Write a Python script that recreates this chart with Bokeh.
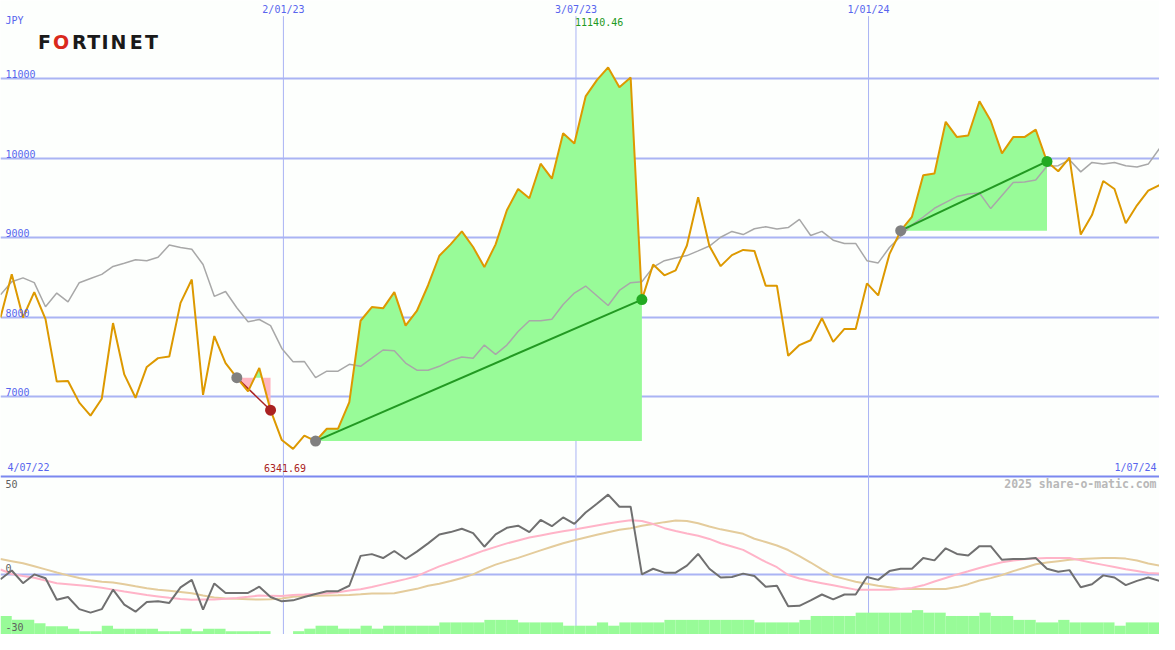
import numpy as np
import pandas as pd
from bokeh.plotting import figure
from bokeh.models import Range1d, Label
from bokeh.embed import file_html
from bokeh.resources import INLINE

# ---------------- data ----------------
dates = pd.date_range("2022-07-10", periods=104, freq="7D")

price = [7994, 8537, 7994, 8313, 7973, 7188, 7196, 6923, 6759, 6972,
         7924, 7278, 6984, 7372, 7483, 7503, 8178, 8472, 7021, 7761,
         7421, 7237, 7065, 7360, 6828, 6452, 6341.69, 6509, 6439, 6595,
         6595, 6930, 7953, 8125, 8109, 8313, 7892, 8076, 8400, 8771,
         8914, 9078, 8881, 8628, 8914, 9344, 9610, 9495, 9929, 9740,
         10313, 10182, 10775, 10980, 11140.46, 10890, 11012, 8219, 8660, 8525,
         8587, 8900, 9507, 8894, 8640, 8779, 8844, 8832, 8395, 8395,
         7512, 7647, 7708, 7985, 7687, 7850, 7850, 8423, 8272, 8791,
         9086, 9261, 9785, 9806, 10456, 10264, 10284, 10714, 10469, 10059,
         10264, 10264, 10358, 9957, 9834, 10006, 9037, 9282, 9712, 9610,
         9180, 9405, 9589, 9659]

average = [8280, 8444, 8493, 8432, 8129, 8301, 8190, 8432, 8485, 8537,
           8636, 8677, 8721, 8709, 8751, 8906, 8874, 8853, 8660, 8260,
           8321, 8117, 7941, 7969, 7892, 7605, 7438, 7442, 7237, 7319,
           7319, 7405, 7380, 7482, 7585, 7577, 7421, 7331, 7331, 7380,
           7450, 7497, 7482, 7647, 7531, 7647, 7818, 7953, 7953, 7973,
           8157, 8301, 8390, 8267, 8145, 8334, 8432, 8444, 8628, 8709,
           8742, 8773, 8832, 8893, 9004, 9077, 9037, 9110, 9135, 9107,
           9126, 9229, 9025, 9077, 8967, 8926, 8926, 8709, 8681, 8874,
           9016, 9160, 9258, 9368, 9442, 9515, 9548, 9561, 9364, 9528,
           9691, 9699, 9724, 9896, 9904, 9978, 9826, 9945, 9924, 9945,
           9904, 9887, 9924, 10120]

momentum = [-2.7, 1.8, -4.7, -0.2, -2.2, -13.2, -11.8, -18, -19.8, -18,
            -8, -15.7, -19.3, -14.3, -14, -14.8, -6.8, -3, -18.2, -4.8,
            -9.7, -9.7, -9.7, -6.5, -11.8, -14, -13.5, -11.8, -10.2, -8.8,
            -8.8, -6, 9.3, 10.2, 8.2, 11.8, 7.7, 11.5, 15.7, 20.3,
            21.5, 23.2, 21, 14, 20.3, 23.7, 24.8, 21.5, 27.7, 24.5,
            29, 25.7, 31.5, 36, 40.7, 34.5, 34.5, -0.2, 2.7, 0.7,
            0.7, 4.3, 10.3, 2.7, -1.8, -1.5, 0.2, -1, -6.5, -6,
            -16.5, -16.3, -13.5, -10.5, -13, -10.5, -10.5, -1.5, -3, 1.5,
            2.7, 2.7, 8.2, 7, 13.2, 10.3, 9.5, 14.3, 14.3, 7.3,
            7.7, 7.7, 8.2, 2.7, 1.2, 2, -6.8, -5.2, -0.7, -1.8,
            -5.7, -3.5, -1.8, -3.5]

signal_fast = [2.3, 0.0, -1.0, -1.9, -3.3, -4.7, -5.2, -5.7, -6.3, -7.0,
               -8.0, -9.0, -9.9, -10.8, -11.5, -12.2, -12.8, -13.2, -13.1, -13.0,
               -12.7, -12.3, -11.7, -11.0, -11.2, -11.3, -10.7, -10.5, -10.2, -9.8,
               -9.3, -8.5, -7.8, -6.6, -5.3, -4.0, -2.6, -1.1, 1.5, 3.9,
               5.9, 7.9, 10.0, 12.1, 13.9, 15.7, 17.2, 18.7, 19.8, 20.9,
               21.9, 22.8, 23.9, 24.9, 25.9, 26.8, 27.6, 27.2, 25.6, 23.5,
               22.1, 20.8, 19.6, 18.0, 15.8, 14.1, 12.4, 9.3, 6.2, 3.5,
               -0.5, -2.3, -3.6, -4.7, -5.8, -6.9, -8.0, -8.0, -8.0, -8.0,
               -7.7, -7.1, -5.8, -3.8, -2.0, -0.2, 1.4, 3.1, 4.6, 6.0,
               6.9, 7.6, 7.9, 8.2, 8.2, 8.2, 7.0, 5.8, 4.7, 3.6,
               2.5, 1.5, 0.5, 0.2]

signal_slow = [7.7, 6.6, 5.5, 4.0, 2.4, 0.8, -0.7, -2.0, -3.2, -4.0,
               -4.4, -5.2, -6.3, -7.3, -8.0, -8.6, -9.2, -9.9, -11.0, -12.0,
               -12.5, -12.7, -12.9, -13.1, -12.9, -12.5, -11.6, -11.3, -11.2, -11.0,
               -10.9, -10.7, -10.4, -10.0, -10.0, -9.8, -8.7, -7.6, -6.0, -5.0,
               -3.6, -2.0, -0.2, 2.5, 4.8, 6.6, 8.3, 10.2, 12.1, 14.0,
               15.8, 17.3, 18.7, 20.1, 21.4, 22.7, 23.5, 24.7, 25.7, 26.6,
               27.4, 27.2, 26.0, 24.4, 22.9, 21.8, 20.6, 18.1, 16.4, 14.6,
               12.3, 9.2, 5.9, 2.4, -1.0, -2.5, -4.0, -5.0, -6.0, -6.8,
               -7.7, -7.7, -7.7, -7.7, -7.7, -6.7, -5.2, -3.3, -2.1, -0.5,
               1.5, 3.2, 5.0, 5.9, 6.6, 7.3, 7.7, 8.0, 8.2, 8.2,
               7.9, 6.9, 5.4, 4.3]

volume = [9.5, 7.5, 7.5, 5.8, 4.2, 4.2, 3, 1.7, 1.7, 4.5,
          3, 3, 3, 3, 1.7, 1.7, 3, 1.7, 3, 3,
          1.7, 1.7, 1.7, 1.7, 0, 0, 1.7, 3, 4.5, 4.5,
          3, 3, 4.5, 3, 4.5, 4.5, 4.5, 4.5, 4.5, 6.2,
          6.2, 6.2, 6.2, 7.5, 7.5, 7.5, 6.2, 6.2, 6.2, 6.2,
          4.5, 4.5, 4.5, 6.2, 4.5, 6.2, 6.2, 6.2, 6.2, 7.5,
          7.5, 7.5, 7.5, 7.5, 7.5, 7.5, 7.5, 6.2, 6.2, 6.2,
          6.2, 7.5, 9.5, 9.5, 9.5, 9.5, 11.2, 11.2, 11.2, 11.2,
          11.2, 12.5, 11.2, 11.2, 9.5, 9.5, 9.5, 11.2, 9.5, 9.5,
          7.5, 7.5, 6.2, 6.2, 7.5, 6.2, 6.2, 6.2, 6.2, 4.5,
          6.2, 6.2, 6.2]

price_ticks = [7000, 8000, 9000, 10000, 11000]
osc_ticks = [50, 0, -30]
date_marks = ["2023-01-02", "2023-07-03", "2024-01-01"]
date_mark_labels = ["2/01/23", "3/07/23", "1/01/24"]
edge_labels = ["4/07/22", "1/07/24"]
seg_start = [21, 28, 80]
seg_end = [24, 57, 93]
currency = "JPY"
brand = "FORTINET"
credit = "2025 share-o-matic.com"

# ---------------- layout helpers ----------------
W, H = 1159, 634
RW, RH = 1175.0, 650.0
P_LO, P_HI = 4006, 11982      # main price range
O_LO, O_HI = -31, 294         # oscillator range

def sx(rx):
    return rx * W / RW

def sy(ry):
    return H - ry * H / RH

def price_sy(v):
    return (v - P_LO) / (P_HI - P_LO) * H

def osc_sy(v):
    return (v - O_LO) / (O_HI - O_LO) * H

xs = dates.values.astype("datetime64[ms]").astype(np.int64).astype(float)
price_a = np.array(price, dtype=float)

BG = "#fdfffd"
GRID = "#aab4f4"
BLUE_TXT = "#5865ee"
MONO = "DejaVu Sans Mono"

p = figure(width=W, height=H, output_backend="svg", toolbar_location=None,
           x_range=Range1d(xs[0], xs[-1]), y_range=Range1d(P_LO, P_HI),
           x_axis_location=None, y_axis_location=None, min_border=0,
           outline_line_color=None, background_fill_color=BG,
           border_fill_color=BG)
p.grid.visible = False
p.extra_y_ranges = {"osc": Range1d(O_LO, O_HI)}

# grid lines
p.hspan(y=price_ticks, line_color=GRID, line_width=2)
p.hspan(y=[6000], line_color="#7b88f0", line_width=2)
p.hspan(y=[0], line_color=GRID, line_width=2, y_range_name="osc")
mark_x = pd.to_datetime(date_marks).values.astype("datetime64[ms]").astype(np.int64).astype(float)
v_top = P_HI - 16 / RH * (P_HI - P_LO)
p.segment(x0=mark_x, x1=mark_x, y0=[v_top] * len(mark_x), y1=[P_LO] * len(mark_x),
          line_color=GRID, line_width=1)

# oscillator panel
p.quad(left=xs[:-1], right=xs[1:], bottom=[O_LO] * len(volume),
       top=[O_LO + v for v in volume], fill_color="#98fb98", line_color=None,
       y_range_name="osc")
p.line(xs, signal_slow, line_color="#e4cc9c", line_width=2, y_range_name="osc")
p.line(xs, signal_fast, line_color="#ffb4c8", line_width=2, y_range_name="osc")
p.line(xs, momentum, line_color="#707070", line_width=2, y_range_name="osc")

# trend fills
def split_fill(i0, i1):
    x = xs[i0:i1 + 1]
    y = price_a[i0:i1 + 1]
    base = y[0]
    ox, oy = [x[0]], [y[0]]
    for k in range(1, len(x)):
        a, b = y[k - 1] - base, y[k] - base
        if a * b < 0:
            t = a / (a - b)
            ox.append(x[k - 1] + t * (x[k] - x[k - 1]))
            oy.append(base)
        ox.append(x[k])
        oy.append(y[k])
    return np.array(ox), np.array(oy), base

for i0, i1 in zip(seg_start, seg_end):
    fx, fy, base = split_fill(i0, i1)
    basel = np.full_like(fx, base)
    p.varea(x=fx, y1=basel, y2=np.minimum(fy, base), fill_color="#ffb6c1")
    p.varea(x=fx, y1=basel, y2=np.maximum(fy, base), fill_color="#98fb98")

# average line
p.line(xs, average, line_color="#a8a8a8", line_width=1.5)

# trend lines
for i0, i1 in zip(seg_start, seg_end):
    up = price_a[i1] >= price_a[i0]
    col = "#229922" if up else "#aa2222"
    p.line([xs[i0], xs[i1]], [price_a[i0], price_a[i1]], line_color=col,
           line_width=2 if up else 1.5)

# price line
p.line(xs, price_a, line_color="#dd9900", line_width=2)

# markers
for i0, i1 in zip(seg_start, seg_end):
    up = price_a[i1] >= price_a[i0]
    p.scatter([xs[i0]], [price_a[i0]], size=11, fill_color="#808080", line_color=None)
    p.scatter([xs[i1]], [price_a[i1]], size=11,
              fill_color="#22aa22" if up else "#aa2222", line_color=None)

# ---------------- texts ----------------
def lab(**kw):
    base = dict(text_font=MONO, text_font_size="10px", text_color=BLUE_TXT,
                x_units="screen", y_units="screen", text_baseline="middle")
    base.update(kw)
    p.add_layout(Label(**base))

lab(x=sx(5), y=sy(20), text=currency)
for t in price_ticks:
    lab(x=sx(5), y=price_sy(t) + 4.5 * H / RH, text=str(t))
for mx, ml in zip(mark_x, date_mark_labels):
    lab(x=mx, y=sy(9), x_units="data", text=ml, text_align="center")
lab(x=sx(7), y=sy(479), text=edge_labels[0])
lab(x=sx(1172), y=sy(479), text=edge_labels[1], text_align="right")

imin = int(np.argmin(price_a))
imax = int(np.argmax(price_a))
lab(x=xs[imin], y=sy(479), x_units="data", text=f"{price_a[imin]:.2f}",
    text_align="center", x_offset=-8, text_color="#aa2222")
lab(x=xs[imax], y=sy(22), x_units="data", text=f"{price_a[imax]:.2f}",
    text_align="center", x_offset=-9, text_color="#229922")

# oscillator tick labels
osc_offsets = {50: -7.5, 0: 6.3, -30: 6}
for t in osc_ticks:
    lab(x=sx(5), y=osc_sy(t) + osc_offsets[t] * H / RH, text=str(t),
        text_color="#606060")

lab(x=sx(1172), y=sy(496), text=credit, text_align="right",
    text_color="#b8b8b8", text_font_size="11.5px", text_font_style="bold")

# brand logo as text
letter_cx = [44.5, 61.5, 80, 94.5, 106, 119.5, 137.5, 153]
for ch, cx in zip(brand, letter_cx):
    p.add_layout(Label(x=sx(cx), y=sy(42.5), x_units="screen", y_units="screen",
                       text=ch, text_align="center", text_baseline="middle",
                       text_font="DejaVu Sans", text_font_size="19px",
                       text_font_style="bold",
                       text_color="#da291c" if ch == "O" else "#1a1a1a"))

open("out.html", "w").write(file_html(p, INLINE))
